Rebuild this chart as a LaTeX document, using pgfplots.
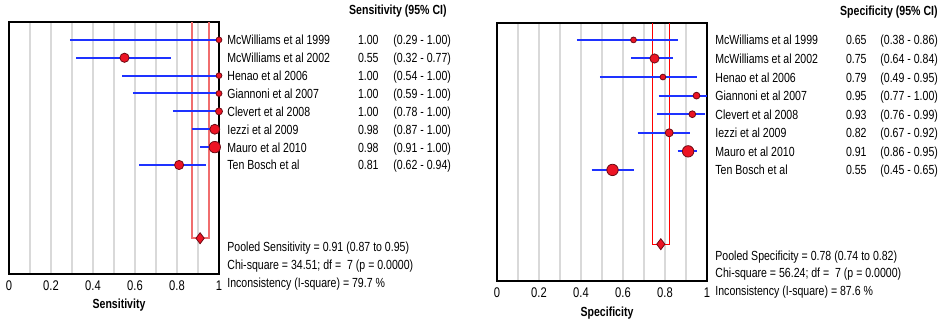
\documentclass[border=0pt]{standalone}
\usepackage{pgfplots}
\pgfplotsset{compat=1.18}
\usepackage{pgfplotstable}
\usepackage{fontspec}
\setmainfont[FakeStretch=0.8]{Liberation Sans}
\definecolor{mred}{RGB}{236,20,36}
\definecolor{medge}{RGB}{110,10,20}
\definecolor{pinkbox}{RGB}{240,110,110}
\definecolor{ciblue}{RGB}{30,50,255}

% point estimates and marker radius (pt)
\pgfplotstableread{
k est r
1 1.00 1.45
2 0.55 2.3
3 1.00 1.45
4 1.00 1.5
5 1.00 1.75
6 0.98 2.5
7 0.98 2.85
8 0.81 2.3
}\sens
% 95% CI segments
\pgfplotstableread{
x y
0.29 1
1.00 1
nan nan
0.32 2
0.77 2
nan nan
0.54 3
1.00 3
nan nan
0.59 4
1.00 4
nan nan
0.78 5
1.00 5
nan nan
0.87 6
1.00 6
nan nan
0.91 7
1.00 7
nan nan
0.62 8
0.94 8
}\sensci

\pgfplotstableread{
k est r
1 0.65 1.45
2 0.75 2.3
3 0.79 1.45
4 0.95 1.7
5 0.93 1.7
6 0.82 2.0
7 0.91 2.85
8 0.55 2.85
}\spec
\pgfplotstableread{
x y
0.38 1
0.86 1
nan nan
0.64 2
0.84 2
nan nan
0.49 3
0.95 3
nan nan
0.77 4
1.00 4
nan nan
0.76 5
0.99 5
nan nan
0.67 6
0.92 6
nan nan
0.86 7
0.95 7
nan nan
0.45 8
0.65 8
}\specci

\newcommand{\txt}{\fontsize{6.6}{7.6}\selectfont}
% row of text: #1 row, #2 label, #3 value, #4 CI, #5 CI xshift
\newcommand{\rowtext}[5]{%
  \node[anchor=base west, inner sep=0pt, font=\txt] at (axis cs:1,#1) [xshift=4pt, yshift=-2.5pt] {#2};
  \node[anchor=base east, inner sep=0pt, font=\txt] at (axis cs:1,#1) [xshift=80pt, yshift=-2.5pt] {#3};
  \node[anchor=base west, inner sep=0pt, font=\txt] at (axis cs:1,#1) [xshift=#5, yshift=-2.5pt] {#4};
}

\pgfplotsset{
  forest/.style={
    scale only axis, width=105pt,
    xmin=0, xmax=1, y dir=reverse,
    axis line style={black, line width=0.7pt},
    xtick={0,0.2,0.4,0.6,0.8,1},
    xticklabels={0,0.2,0.4,0.6,0.8,1},
    minor xtick={0.1,0.3,0.5,0.7,0.9},
    xmajorgrids, xminorgrids,
    major grid style={black!15, line width=0.8pt},
    minor grid style={black!15, line width=0.8pt},
    ytick=\empty,
    major tick length=0pt, minor tick length=0pt,
    tick label style={font=\fontsize{7}{8}\selectfont},
    /pgf/number format/assume math mode=true,
    clip=false,
  },
  circ/.style={
    only marks, mark=*, scatter, point meta=explicit,
    scatter/use mapped color={draw=medge, fill=mred},
    visualization depends on={\thisrow{r} \as \rr},
    scatter/@pre marker code/.append style={/tikz/mark size=\rr},
    mark options={line width=0.4pt},
  },
  cis/.style={ciblue, line width=1pt, mark=none, unbounded coords=jump},
}

\begin{document}
\begin{tikzpicture}
\path[use as bounding box] (0,0) rectangle (470pt,-160pt);

% ---------------- Sensitivity ----------------
\begin{axis}[forest, at={(4.5pt,-11pt)}, anchor=north west,
  height=126pt, ymin=0, ymax=14.1]
\addplot[pinkbox, line width=1pt] coordinates {(0.87,0) (0.87,12.1) (0.95,12.1) (0.95,0)};
\addplot[circ] table[x=est, y=k, meta=r] {\sens};
\addplot[cis] table[x=x, y=y] {\sensci};
\addplot[only marks, mark=diamond*, mark size=2.75pt,
  mark options={draw=medge, fill=mred, line width=0.4pt}] coordinates {(0.91,12.1)};

\node[anchor=base east, inner sep=0pt, font=\txt\bfseries] at (axis description cs:1,1) [xshift=114pt, yshift=4pt] {Sensitivity (95\% CI)};
\rowtext{1}{McWilliams et al 1999}{1.00}{(0.29 - 1.00)}{87pt}
\rowtext{2}{McWilliams et al 2002}{0.55}{(0.32 - 0.77)}{87pt}
\rowtext{3}{Henao et al 2006}{1.00}{(0.54 - 1.00)}{87pt}
\rowtext{4}{Giannoni et al 2007}{1.00}{(0.59 - 1.00)}{87pt}
\rowtext{5}{Clevert et al 2008}{1.00}{(0.78 - 1.00)}{87pt}
\rowtext{6}{Iezzi et al 2009}{0.98}{(0.87 - 1.00)}{87pt}
\rowtext{7}{Mauro et al 2010}{0.98}{(0.91 - 1.00)}{87pt}
\rowtext{8}{Ten Bosch et al}{0.81}{(0.62 - 0.94)}{87pt}
\node[anchor=base west, inner sep=0pt, font=\txt] at (axis description cs:1,0) [xshift=4pt, yshift=11.5pt] {Pooled Sensitivity = 0.91 (0.87 to 0.95)};
\node[anchor=base west, inner sep=0pt, font=\txt] at (axis description cs:1,0) [xshift=4pt, yshift=2.5pt] {Chi-square = 34.51; df =\ \ 7 (p = 0.0000)};
\node[anchor=base west, inner sep=0pt, font=\txt] at (axis description cs:1,0) [xshift=4pt, yshift=-6.5pt] {Inconsistency (I-square) = 79.7 \%};
\node[font=\txt\bfseries] at (axis description cs:0.5,0) [xshift=2.5pt, yshift=-15.5pt] {Sensitivity};
\end{axis}

% ---------------- Specificity ----------------
\begin{axis}[forest, at={(248.5pt,-11.5pt)}, anchor=north west,
  height=129pt, ymin=0.09, ymax=13.98]
\addplot[red, line width=0.6pt] coordinates {(0.74,0.09) (0.74,12) (0.82,12) (0.82,0.09)};
\addplot[circ] table[x=est, y=k, meta=r] {\spec};
\addplot[cis] table[x=x, y=y] {\specci};
\addplot[only marks, mark=diamond*, mark size=2.75pt,
  mark options={draw=medge, fill=mred, line width=0.4pt}] coordinates {(0.78,12)};

\node[anchor=base east, inner sep=0pt, font=\txt\bfseries] at (axis description cs:1,1) [xshift=115.5pt, yshift=4pt] {Specificity (95\% CI)};
\rowtext{1}{McWilliams et al 1999}{0.65}{(0.38 - 0.86)}{86.5pt}
\rowtext{2}{McWilliams et al 2002}{0.75}{(0.64 - 0.84)}{86.5pt}
\rowtext{3}{Henao et al 2006}{0.79}{(0.49 - 0.95)}{86.5pt}
\rowtext{4}{Giannoni et al 2007}{0.95}{(0.77 - 1.00)}{86.5pt}
\rowtext{5}{Clevert et al 2008}{0.93}{(0.76 - 0.99)}{86.5pt}
\rowtext{6}{Iezzi et al 2009}{0.82}{(0.67 - 0.92)}{86.5pt}
\rowtext{7}{Mauro et al 2010}{0.91}{(0.86 - 0.95)}{86.5pt}
\rowtext{8}{Ten Bosch et al}{0.55}{(0.45 - 0.65)}{86.5pt}
\node[anchor=base west, inner sep=0pt, font=\txt] at (axis description cs:1,0) [xshift=4pt, yshift=10.5pt] {Pooled Specificity = 0.78 (0.74 to 0.82)};
\node[anchor=base west, inner sep=0pt, font=\txt] at (axis description cs:1,0) [xshift=4pt, yshift=2pt] {Chi-square = 56.24; df =\ \ 7 (p = 0.0000)};
\node[anchor=base west, inner sep=0pt, font=\txt] at (axis description cs:1,0) [xshift=4pt, yshift=-7pt] {Inconsistency (I-square) = 87.6 \%};
\node[font=\txt\bfseries] at (axis description cs:0.5,0) [xshift=2.5pt, yshift=-16pt] {Specificity};
\end{axis}
\end{tikzpicture}
\end{document}
